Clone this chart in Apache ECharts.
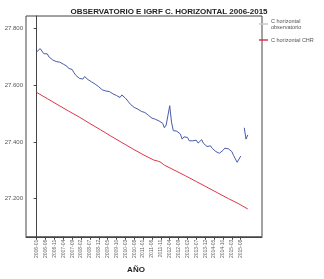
<!DOCTYPE html>
<html><head><meta charset="utf-8">
<script src="https://cdn.jsdelivr.net/npm/echarts@6/dist/echarts.min.js"></script>
<style>html,body{margin:0;padding:0;background:#fff}#c{width:324px;height:279px}</style>
</head><body><div id="c"></div>
<script>
var years = [2006,2007,2008,2009,2010,2011,2012,2013,2014,2015];
var months = [];
years.forEach(function(y){ for (var m = 1; m <= 12; m++) months.push(y + '-' + (m < 10 ? '0' + m : m)); });

var obsValues = [
27718,27724,27730,27735,27712,27708,27711,27700,27694,27690,
27688,27684,27687,27682,27686,27675,27670,27668,27660,27663,
27656,27645,27636,27630,27625,27628,27622,27631,27628,27620,
27616,27612,27608,27604,27599,27595,27588,27584,27588,27580,
27584,27578,27576,27570,27566,27564,27560,27557,27566,27562,
27555,27550,27540,27532,27527,27522,27519,27516,27512,27508,
27510,27504,27500,27494,27490,27484,27486,27480,27476,27474,
27468,27466,27450,27460,27456,27528,27470,27440,27436,27438,
27432,27428,27410,27418,27414,27416,27404,27398,27404,27409,
27406,27396,27402,27408,27395,27388,27384,27380,27386,27377,
27372,27366,27362,27360,27356,27370,27378,27382,27376,27370,
27366,27352,27340,27328,27330,27350,null,27450,27410,27425
];

var igrfIdx    = [0,6,12,18,24,30,36,42,48,54,60,66,68,69,70,72,78,84,90,96,102,108,114,119];
var igrfValues = [27575,27553,27531,27509,27488,27465,27443,27420,27398,27376,27355,27336,27333,27337,27328,27318,27299,27280,27260,27240,27220,27200,27181,27163];

var yTicks = [27200,27400,27600,27800];
var xTickIdx = [];
for (var k = 0; k < 120; k += 5) xTickIdx.push(k);

var obsData = obsValues.map(function(v,i){ return [i, v]; });
var igrfData = igrfIdx.map(function(x,i){ return [x, igrfValues[i]]; });

function fmt(v){ return String(v).replace(/\B(?=(\d{3})+(?!\d))/g, '.'); }

var chart = echarts.init(document.getElementById('c'));
chart.setOption({
  animation: false,
  backgroundColor: '#fff',
  textStyle: {fontFamily: 'Liberation Sans, Arial, sans-serif'},
  title: {
    text: 'OBSERVATORIO E IGRF C. HORIZONTAL 2006-2015',
    left: 164, top: 3, textAlign: 'center',
    textStyle: {fontSize: 8, fontWeight: 'bold', color: '#222'}
  },
  legend: {
    left: 257, top: 16, orient: 'vertical', itemWidth: 9, itemHeight: 1.5, itemGap: 7,
    icon: 'rect', padding: 2,
    textStyle: {fontSize: 5.5, color: '#555', lineHeight: 6, padding: [0, 0, 0, -2]},
    data: [
      {name: 'C horizontal\nobservatorio', itemStyle: {color: '#c8c8d0'}},
      {name: 'C horizontal CHR', itemStyle: {color: '#e0344a'}}
    ]
  },
  grid: {left: 26, top: 16, right: 62, bottom: 32, show: true, borderColor: '#444', borderWidth: 1},
  xAxis: {
    type: 'value', min: -6, max: 127,
    name: 'AÑO', nameLocation: 'middle', nameGap: 22,
    nameTextStyle: {fontSize: 8, fontWeight: 'bold', color: '#222', padding: [0, 0, 0, -16]},
    axisLine: {lineStyle: {color: '#444'}},
    splitLine: {show: false},
    axisTick: {customValues: xTickIdx, length: 3, inside: false, lineStyle: {color: '#444'}},
    axisLabel: {customValues: xTickIdx, rotate: 90, fontSize: 5, color: '#666', margin: 3,
      formatter: function(v){ return months[v] || ''; }}
  },
  yAxis: {
    type: 'value', min: 27065, max: 27845,
    axisLine: {show: true, lineStyle: {color: '#444'}},
    splitLine: {show: false},
    axisTick: {customValues: yTicks, length: 3, lineStyle: {color: '#444'}},
    axisLabel: {customValues: yTicks, fontSize: 6, color: '#555', margin: 3, formatter: fmt}
  },
  series: [
    {name: 'C horizontal\nobservatorio', type: 'line', data: obsData, showSymbol: false,
      lineStyle: {color: '#4a5aa8', width: 1}, itemStyle: {color: '#4a5aa8'}, connectNulls: false},
    {name: 'C horizontal CHR', type: 'line', data: igrfData, showSymbol: false,
      lineStyle: {color: '#e0344a', width: 1}, itemStyle: {color: '#e0344a'}}
  ]
});
</script></body></html>
